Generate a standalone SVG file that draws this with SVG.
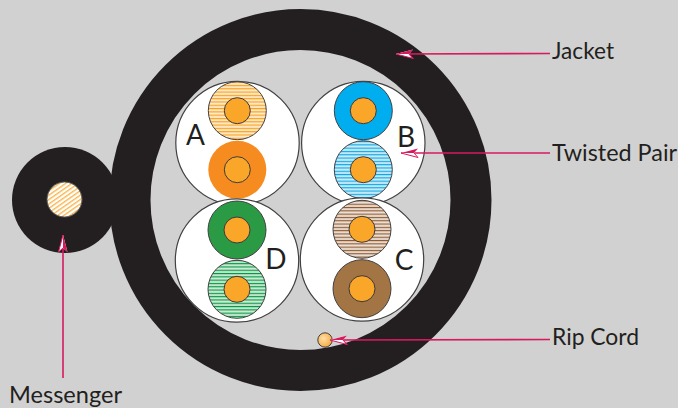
<svg xmlns="http://www.w3.org/2000/svg" width="678" height="408" viewBox="0 0 678 408">
<style>
.bundle{fill:#fff;stroke:#414042;stroke-width:1.2}
.pair{stroke:#414042;stroke-width:1}
.core{fill:#faa629;stroke:#3c3a3a;stroke-width:1}
.lbl{font-family:Lato,"Liberation Sans",sans-serif;font-size:23px;fill:#231f20}
.ltr{font-family:Lato,"Liberation Sans",sans-serif;font-size:28px;fill:#231f20;text-anchor:middle}
.lead{stroke:#d71a5f;stroke-width:1.6;fill:none;marker-end:url(#ah)}
</style>
<defs>
<marker id="ah" markerUnits="userSpaceOnUse" markerWidth="20" markerHeight="14" refX="19" refY="6" orient="auto" overflow="visible">
<path d="M2 10.5 L19 6 L2 1.5 L6 6 Z" fill="#fff"/>
<path d="M2 10.5 L19 6 L6 6 Z" fill="#d71a5f"/>
<path d="M19 6 L2 1.5 L6 6" fill="none" stroke="#d71a5f" stroke-width="1"/>
</marker>
<radialGradient id="rip" cx="0.4" cy="0.4" r="0.65"><stop offset="0" stop-color="#fde0a8"/><stop offset="1" stop-color="#f7a83c"/></radialGradient>
<pattern id="so" patternUnits="userSpaceOnUse" width="6" height="3.3"><rect width="6" height="3.3" fill="#fdd08a"/><rect y="1.2" width="6" height="1.1" fill="#fff"/><rect y="2.3" width="6" height="1" fill="#f9a01c"/></pattern>
<pattern id="sb" patternUnits="userSpaceOnUse" width="6" height="3.3"><rect width="6" height="3.3" fill="#8fd5f2"/><rect y="1.2" width="6" height="1.1" fill="#fff"/><rect y="2.3" width="6" height="1" fill="#0aa8e6"/></pattern>
<pattern id="sg" patternUnits="userSpaceOnUse" width="6" height="3.3"><rect width="6" height="3.3" fill="#92d1a2"/><rect y="1.2" width="6" height="1.1" fill="#fff"/><rect y="2.3" width="6" height="1" fill="#009a48"/></pattern>
<pattern id="sc" patternUnits="userSpaceOnUse" width="6" height="3.3"><rect width="6" height="3.3" fill="#d3b9a5"/><rect y="1.2" width="6" height="1.1" fill="#fff"/><rect y="2.3" width="6" height="1" fill="#8f5a30"/></pattern>
<pattern id="hatch" patternUnits="userSpaceOnUse" width="3.6" height="3.6" patternTransform="rotate(-35)"><rect width="3.6" height="3.6" fill="#fff"/><rect width="3.6" height="1.4" fill="#fbb64f"/></pattern>
</defs>
<rect width="678" height="408" fill="#d1d1d1"/>
<g id="messenger">
<circle cx="65" cy="200" r="53" fill="#231f20"/>
<circle cx="64.5" cy="199.5" r="17.5" fill="url(#hatch)" stroke="#58595b" stroke-width="1"/>
</g>
<g id="jacket">
<circle cx="300.5" cy="200" r="170.5" fill="none" stroke="#231f20" stroke-width="41"/>
</g>
<g id="pair-a">
<circle class="bundle" cx="237.5" cy="143" r="61.7"/>
<circle class="pair" cx="237.3" cy="110.7" r="29" fill="url(#so)"/><circle class="core" cx="237.3" cy="110.7" r="13"/>
<circle cx="237.3" cy="169.7" r="29" fill="#f68b1f"/><circle class="core" cx="237.3" cy="169.7" r="13"/>
<text class="ltr" x="195.5" y="145">A</text>
</g>
<g id="pair-b">
<circle class="bundle" cx="363.3" cy="143" r="61.7"/>
<circle class="pair" cx="363.3" cy="110.7" r="29" fill="#00aeef"/><circle class="core" cx="363.3" cy="110.7" r="13"/>
<circle class="pair" cx="363.3" cy="169.7" r="29" fill="url(#sb)"/><circle class="core" cx="363.3" cy="169.7" r="13"/>
<text class="ltr" x="406" y="147">B</text>
</g>
<g id="pair-d">
<circle class="bundle" cx="237" cy="260.5" r="61.7"/>
<circle class="pair" cx="237" cy="230" r="29" fill="#2b9a44"/><circle class="core" cx="237" cy="230" r="13"/>
<circle class="pair" cx="237" cy="289.3" r="29" fill="url(#sg)"/><circle class="core" cx="237" cy="289.3" r="13"/>
<text class="ltr" x="276" y="269">D</text>
</g>
<g id="pair-c">
<circle class="bundle" cx="362" cy="259.5" r="61.7"/>
<circle class="pair" cx="362" cy="229.3" r="29" fill="url(#sc)"/><circle class="core" cx="362" cy="229.3" r="13"/>
<circle class="pair" cx="362" cy="288.7" r="29" fill="#a37444"/><circle class="core" cx="362" cy="288.7" r="13"/>
<text class="ltr" x="404" y="270">C</text>
</g>
<g id="rip-cord">
<circle cx="325" cy="340" r="7.2" fill="url(#rip)" stroke="#414042" stroke-width="1"/>
</g>
<g id="connectors">
<path class="lead" d="M550 53.5 L396 54"/>
<path class="lead" d="M550 153 L401 153"/>
<path class="lead" d="M550 339.5 L330 340"/>
<path class="lead" d="M63 378 L63 235"/>
</g>
<g id="labels">
<text class="lbl" x="552" y="59" textLength="62" lengthAdjust="spacingAndGlyphs">Jacket</text>
<text class="lbl" x="552" y="161" textLength="125" lengthAdjust="spacingAndGlyphs">Twisted Pair</text>
<text class="lbl" x="552" y="345" textLength="87" lengthAdjust="spacingAndGlyphs">Rip Cord</text>
<text class="lbl" x="9" y="403" textLength="113" lengthAdjust="spacingAndGlyphs">Messenger</text>
</g>
</svg>
